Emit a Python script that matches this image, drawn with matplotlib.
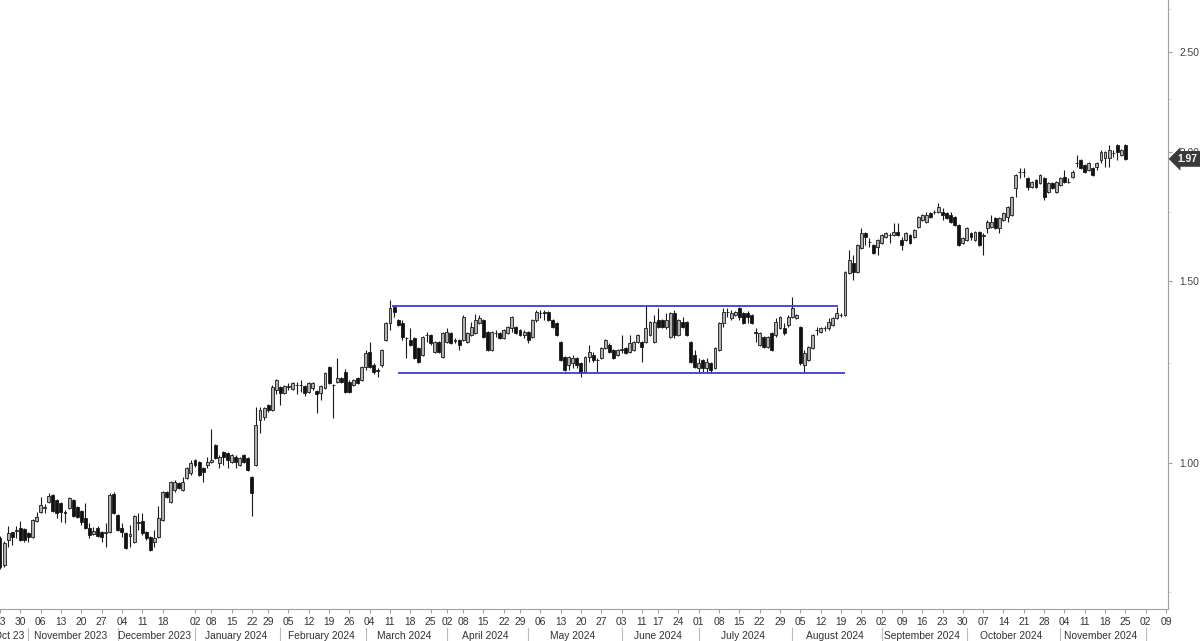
import pandas as pd
import numpy as np
import matplotlib
matplotlib.use('Agg')
import matplotlib.pyplot as plt
import matplotlib.transforms as mtransforms
from matplotlib.ticker import FixedLocator, NullFormatter

plt.rcParams['font.family'] = ['Liberation Sans', 'DejaVu Sans']

# ASX trading calendar, Oct 2023 -> Dec 2024
asx_holidays = ['2023-12-25', '2023-12-26', '2024-01-01', '2024-01-26',
                '2024-03-29', '2024-04-01', '2024-04-25', '2024-06-10']
dates = pd.bdate_range('2023-10-23', '2024-12-09', freq='C', holidays=asx_holidays)

# daily OHLC
open_ = [0.846, 0.797, 0.842, 0.857, 0.860, 0.865, 0.863, 0.855, 0.848, 0.879,
         0.896, 0.905, 0.917, 0.931, 0.921, 0.915, 0.897, 0.905, 0.921, 0.907,
         0.898, 0.884, 0.865, 0.854, 0.865, 0.857, 0.856, 0.857, 0.933, 0.890,
         0.865, 0.855, 0.850, 0.838, 0.874, 0.879, 0.857, 0.848, 0.838, 0.848,
         0.881, 0.937, 0.917, 0.942, 0.956, 0.942, 0.967, 0.978, 1.007, 1.002,
         0.989, 0.996, 1.002, 1.041, 1.000, 1.025, 1.023, 1.002, 1.013, 0.996,
         1.018, 1.011, 0.969, 0.996, 1.101, 1.108, 1.138, 1.126, 1.177, 1.185,
         1.169, 1.184, 1.180, 1.189, 1.191, 1.188, 1.172, 1.182, 1.175, 1.169,
         1.182, 1.239, 1.191, 1.198, 1.209, 1.225, 1.198, 1.190, 1.209, 1.203,
         1.239, 1.281, 1.244, 1.231, 1.244, 1.316, 1.367, 1.416, 1.376, 1.367,
         1.320, 1.316, 1.322, 1.292, 1.272, 1.329, 1.330, 1.281, 1.310, 1.267,
         1.310, 1.336, 1.314, 1.316, 1.316, 1.310, 1.330, 1.336, 1.367, 1.376,
         1.339, 1.287, 1.335, 1.336, 1.322, 1.336, 1.351, 1.354, 1.345, 1.330,
         1.339, 1.325, 1.376, 1.396, 1.400, 1.400, 1.376, 1.367, 1.310, 1.267,
         1.244, 1.250, 1.264, 1.250, 1.225, 1.267, 1.272, 1.257, 1.264, 1.292,
         1.301, 1.287, 1.272, 1.286, 1.292, 1.281, 1.287, 1.310, 1.310, 1.310,
         1.330, 1.310, 1.376, 1.376, 1.354, 1.325, 1.397, 1.330, 1.370, 1.370,
         1.310, 1.272, 1.236, 1.258, 1.236, 1.250, 1.236, 1.287, 1.367, 1.399,
         1.382, 1.391, 1.413, 1.397, 1.397, 1.391, 1.339, 1.301, 1.325, 1.295,
         1.336, 1.330, 1.351, 1.351, 1.360, 1.385, 1.382, 1.354, 1.244, 1.258,
         1.292, 1.344, 1.339, 1.350, 1.351, 1.360, 1.382, 1.392, 1.391, 1.527,
         1.562, 1.531, 1.615, 1.670, 1.636, 1.626, 1.619, 1.633, 1.655, 1.662,
         1.663, 1.674, 1.644, 1.644, 1.663, 1.655, 1.693, 1.719, 1.711, 1.746,
         1.749, 1.750, 1.750, 1.746, 1.738, 1.731, 1.700, 1.633, 1.644, 1.670,
         1.644, 1.674, 1.658, 1.689, 1.693, 1.727, 1.689, 1.719, 1.731, 1.738,
         1.846, 1.912, 1.914, 1.888, 1.850, 1.879, 1.867, 1.888, 1.830, 1.867,
         1.830, 1.859, 1.892, 1.870, 1.892, 1.951, 1.965, 1.943, 1.922, 1.931,
         1.935, 1.965, 1.974, 1.974, 1.995, 2.032, 1.987, 2.032]

high = [0.850, 0.840, 0.869, 0.858, 0.869, 0.879, 0.866, 0.857, 0.883, 0.896,
        0.927, 0.913, 0.935, 0.933, 0.923, 0.917, 0.900, 0.927, 0.923, 0.909,
        0.900, 0.915, 0.875, 0.867, 0.869, 0.859, 0.875, 0.935, 0.937, 0.892,
        0.875, 0.857, 0.871, 0.890, 0.894, 0.894, 0.859, 0.850, 0.861, 0.909,
        0.940, 0.940, 0.961, 0.963, 0.959, 0.969, 0.992, 1.007, 1.009, 1.004,
        0.991, 1.013, 1.079, 1.043, 1.018, 1.027, 1.025, 1.020, 1.018, 1.013,
        1.020, 1.013, 0.971, 1.133, 1.133, 1.133, 1.140, 1.190, 1.206, 1.188,
        1.190, 1.196, 1.198, 1.198, 1.203, 1.190, 1.198, 1.197, 1.177, 1.190,
        1.225, 1.241, 1.193, 1.264, 1.212, 1.233, 1.203, 1.206, 1.212, 1.241,
        1.287, 1.310, 1.250, 1.236, 1.290, 1.370, 1.438, 1.418, 1.379, 1.376,
        1.325, 1.351, 1.325, 1.295, 1.327, 1.339, 1.333, 1.313, 1.313, 1.339,
        1.351, 1.339, 1.322, 1.319, 1.391, 1.339, 1.370, 1.394, 1.391, 1.379,
        1.342, 1.342, 1.345, 1.339, 1.348, 1.357, 1.388, 1.357, 1.348, 1.345,
        1.342, 1.379, 1.407, 1.407, 1.407, 1.403, 1.379, 1.370, 1.313, 1.270,
        1.270, 1.272, 1.267, 1.253, 1.270, 1.301, 1.281, 1.264, 1.295, 1.319,
        1.307, 1.290, 1.290, 1.330, 1.295, 1.330, 1.313, 1.333, 1.313, 1.422,
        1.373, 1.391, 1.413, 1.379, 1.397, 1.400, 1.407, 1.379, 1.385, 1.373,
        1.313, 1.287, 1.264, 1.261, 1.264, 1.253, 1.295, 1.370, 1.413, 1.413,
        1.407, 1.404, 1.416, 1.400, 1.403, 1.394, 1.351, 1.339, 1.328, 1.328,
        1.339, 1.382, 1.388, 1.367, 1.391, 1.448, 1.394, 1.357, 1.287, 1.298,
        1.333, 1.354, 1.354, 1.357, 1.382, 1.385, 1.416, 1.397, 1.535, 1.608,
        1.590, 1.630, 1.689, 1.674, 1.652, 1.630, 1.648, 1.666, 1.674, 1.670,
        1.708, 1.708, 1.655, 1.674, 1.666, 1.685, 1.734, 1.742, 1.750, 1.750,
        1.758, 1.785, 1.766, 1.750, 1.750, 1.734, 1.704, 1.655, 1.693, 1.674,
        1.678, 1.678, 1.670, 1.719, 1.738, 1.731, 1.731, 1.750, 1.774, 1.814,
        1.904, 1.931, 1.931, 1.892, 1.875, 1.883, 1.904, 1.892, 1.871, 1.871,
        1.875, 1.892, 1.922, 1.888, 1.922, 1.987, 1.969, 1.947, 1.956, 1.935,
        1.956, 2.010, 2.005, 2.032, 2.010, 2.036, 2.014, 2.036]

low = [0.790, 0.793, 0.829, 0.833, 0.846, 0.840, 0.838, 0.838, 0.846, 0.877,
       0.894, 0.894, 0.915, 0.896, 0.884, 0.877, 0.875, 0.903, 0.886, 0.884,
       0.871, 0.863, 0.846, 0.852, 0.848, 0.838, 0.829, 0.855, 0.892, 0.859,
       0.848, 0.825, 0.829, 0.836, 0.861, 0.852, 0.842, 0.822, 0.829, 0.846,
       0.879, 0.925, 0.915, 0.937, 0.944, 0.940, 0.965, 0.974, 0.991, 0.972,
       0.959, 0.989, 1.000, 1.009, 0.989, 0.996, 0.989, 1.000, 0.989, 0.994,
       1.000, 0.982, 0.888, 0.994, 1.069, 1.101, 1.120, 1.123, 1.165, 1.138,
       1.167, 1.177, 1.177, 1.165, 1.172, 1.160, 1.169, 1.177, 1.118, 1.151,
       1.180, 1.193, 1.106, 1.196, 1.196, 1.169, 1.170, 1.188, 1.193, 1.200,
       1.231, 1.236, 1.220, 1.212, 1.239, 1.313, 1.345, 1.385, 1.357, 1.316,
       1.264, 1.298, 1.261, 1.250, 1.269, 1.310, 1.301, 1.278, 1.278, 1.264,
       1.307, 1.304, 1.307, 1.287, 1.313, 1.307, 1.327, 1.333, 1.364, 1.322,
       1.284, 1.284, 1.325, 1.319, 1.319, 1.333, 1.339, 1.333, 1.327, 1.322,
       1.307, 1.322, 1.370, 1.382, 1.376, 1.373, 1.351, 1.327, 1.256, 1.228,
       1.231, 1.236, 1.236, 1.212, 1.222, 1.253, 1.253, 1.225, 1.261, 1.290,
       1.278, 1.261, 1.270, 1.278, 1.275, 1.278, 1.284, 1.307, 1.253, 1.307,
       1.327, 1.307, 1.351, 1.351, 1.348, 1.322, 1.322, 1.327, 1.351, 1.327,
       1.250, 1.236, 1.225, 1.225, 1.225, 1.223, 1.233, 1.284, 1.354, 1.385,
       1.376, 1.388, 1.376, 1.364, 1.367, 1.364, 1.310, 1.298, 1.292, 1.292,
       1.284, 1.325, 1.348, 1.330, 1.354, 1.382, 1.379, 1.244, 1.225, 1.256,
       1.290, 1.330, 1.336, 1.342, 1.345, 1.357, 1.379, 1.385, 1.388, 1.524,
       1.504, 1.527, 1.612, 1.626, 1.619, 1.594, 1.590, 1.630, 1.652, 1.633,
       1.659, 1.659, 1.608, 1.641, 1.630, 1.652, 1.689, 1.716, 1.708, 1.727,
       1.742, 1.746, 1.719, 1.723, 1.708, 1.697, 1.622, 1.630, 1.641, 1.644,
       1.641, 1.622, 1.590, 1.670, 1.689, 1.685, 1.670, 1.716, 1.711, 1.734,
       1.810, 1.888, 1.892, 1.838, 1.846, 1.846, 1.863, 1.797, 1.826, 1.842,
       1.826, 1.855, 1.867, 1.867, 1.888, 1.935, 1.927, 1.909, 1.918, 1.896,
       1.922, 1.952, 1.935, 1.935, 1.978, 1.965, 1.983, 1.965]

close = [0.793, 0.837, 0.855, 0.848, 0.862, 0.842, 0.842, 0.848, 0.881, 0.886,
         0.911, 0.907, 0.929, 0.898, 0.894, 0.896, 0.895, 0.925, 0.888, 0.886,
         0.877, 0.865, 0.852, 0.859, 0.850, 0.848, 0.858, 0.931, 0.894, 0.861,
         0.857, 0.827, 0.853, 0.888, 0.876, 0.855, 0.846, 0.824, 0.846, 0.884,
         0.937, 0.927, 0.959, 0.959, 0.946, 0.959, 0.989, 1.000, 0.996, 0.974,
         0.980, 1.002, 1.007, 1.011, 1.013, 1.013, 1.007, 1.018, 1.002, 1.011,
         1.002, 0.985, 0.935, 1.088, 1.126, 1.130, 1.126, 1.185, 1.203, 1.169,
         1.188, 1.186, 1.196, 1.191, 1.189, 1.169, 1.196, 1.196, 1.167, 1.188,
         1.223, 1.196, 1.190, 1.209, 1.198, 1.172, 1.172, 1.203, 1.196, 1.239,
         1.278, 1.239, 1.225, 1.228, 1.287, 1.367, 1.413, 1.400, 1.360, 1.325,
         1.322, 1.301, 1.264, 1.253, 1.325, 1.331, 1.307, 1.310, 1.281, 1.336,
         1.339, 1.307, 1.316, 1.301, 1.385, 1.336, 1.354, 1.376, 1.382, 1.325,
         1.287, 1.339, 1.337, 1.322, 1.345, 1.354, 1.385, 1.336, 1.330, 1.339,
         1.316, 1.376, 1.400, 1.398, 1.397, 1.376, 1.354, 1.330, 1.258, 1.231,
         1.267, 1.264, 1.244, 1.223, 1.267, 1.281, 1.258, 1.259, 1.292, 1.316,
         1.281, 1.264, 1.287, 1.288, 1.278, 1.307, 1.310, 1.330, 1.295, 1.351,
         1.370, 1.370, 1.354, 1.354, 1.376, 1.397, 1.330, 1.376, 1.354, 1.330,
         1.253, 1.239, 1.250, 1.236, 1.253, 1.231, 1.292, 1.367, 1.400, 1.401,
         1.397, 1.400, 1.385, 1.367, 1.385, 1.367, 1.336, 1.336, 1.295, 1.325,
         1.287, 1.370, 1.385, 1.336, 1.385, 1.413, 1.391, 1.250, 1.278, 1.295,
         1.330, 1.346, 1.351, 1.352, 1.370, 1.382, 1.397, 1.390, 1.531, 1.572,
         1.531, 1.626, 1.670, 1.655, 1.638, 1.597, 1.644, 1.663, 1.670, 1.664,
         1.674, 1.663, 1.626, 1.670, 1.633, 1.681, 1.731, 1.738, 1.738, 1.731,
         1.751, 1.770, 1.738, 1.727, 1.711, 1.700, 1.626, 1.652, 1.689, 1.655,
         1.674, 1.626, 1.661, 1.711, 1.711, 1.689, 1.727, 1.746, 1.770, 1.810,
         1.900, 1.914, 1.912, 1.850, 1.871, 1.850, 1.900, 1.810, 1.867, 1.846,
         1.871, 1.888, 1.871, 1.872, 1.913, 1.953, 1.931, 1.913, 1.952, 1.900,
         1.952, 2.001, 2.001, 2.010, 1.997, 2.001, 2.010, 1.970]

# trading range (support / resistance) drawn on the chart
resistance = 1.419
support = 1.221
resistance_span = (96.5, 206.2)
support_span = (98, 208)

last_price = 1.97
y_ticks = [1.00, 1.50, 2.00, 2.50]
y_minor = [0.75, 1.25, 1.75, 2.25, 2.75]

df = pd.DataFrame({'open': open_, 'high': high, 'low': low, 'close': close})
df['date'] = dates[:len(df)]
idx = np.arange(len(df))
up = df['close'] >= df['open']
hi = df[['high', 'open', 'close']].max(axis=1)
lo = df[['low', 'open', 'close']].min(axis=1)

fig = plt.figure(figsize=(12, 6.41), dpi=100)
ax = fig.add_axes([0, 32 / 641, 1168 / 1200, 609 / 641])
ax.set_yscale('log')

# wicks then bodies
ax.vlines(idx, lo, hi, color='#1a1a1a', lw=0.8, zorder=2)
body_lo = df[['open', 'close']].min(axis=1)
body_h = (df['close'] - df['open']).abs()
ax.bar(idx, body_h, bottom=body_lo, width=0.72,
       color=np.where(up, '#b0b0b0', '#111111'),
       edgecolor='#1a1a1a', linewidth=0.6, zorder=3)

ax.hlines(resistance, *resistance_span, color='#3c3cd6', lw=1.3, zorder=4)
ax.hlines(support, *support_span, color='#3c3cd6', lw=1.3, zorder=4)

ax.set_xlim(0, 287.5)
ax.set_ylim(0.7221, 2.8076)

for s in ['top', 'left']:
    ax.spines[s].set_visible(False)
for s in ['right', 'bottom']:
    ax.spines[s].set_color('#a0a0a0')
    ax.spines[s].set_linewidth(0.8)

# right price axis
ax.yaxis.tick_right()
ax.yaxis.set_major_locator(FixedLocator(y_ticks))
ax.yaxis.set_major_formatter(plt.FuncFormatter(lambda v, p: f'{v:.2f}'))
ax.yaxis.set_minor_locator(FixedLocator(y_minor))
ax.yaxis.set_minor_formatter(NullFormatter())
ax.tick_params(axis='y', which='major', length=3, color='#a0a0a0',
               labelsize=7.4, labelcolor='#444444', pad=5)
ax.tick_params(axis='y', which='minor', length=2, color='#d0d0d0')

# weekly day ticks (first trading day of each week, Mon/Tue only)
all_idx = np.arange(len(dates))
wk = dates.isocalendar().week.values
first_of_week = np.r_[True, wk[1:] != wk[:-1]]
tick_pos = [i for i in all_idx if first_of_week[i] and dates[i].weekday() <= 1]
ax.set_xticks(tick_pos)
ax.set_xticklabels([dates[i].strftime('%d') for i in tick_pos])
ax.tick_params(axis='x', length=3, color='#a0a0a0', labelsize=7.4,
               labelcolor='#333333', pad=3)

# month labels and separators below the day row
blend = mtransforms.blended_transform_factory(ax.transData, ax.transAxes)
months = pd.Series(all_idx, index=dates).groupby(dates.to_period('M'))
for per, grp in months:
    first, last = grp.iloc[0], grp.iloc[-1]
    if first > 0:
        ax.plot([first, first], [-0.031, -0.053], transform=blend,
                color='#bbbbbb', lw=0.8, clip_on=False)
    if str(per) == '2023-10':
        ax.text(2.3, -0.0443, 'Oct 23', transform=blend, ha='center',
                va='center', fontsize=7.4, color='#333333', clip_on=False)
    elif str(per) != '2024-12':
        ax.text((first + last) / 2, -0.0443, per.strftime('%B %Y'),
                transform=blend, ha='center', va='center', fontsize=7.4,
                color='#333333', clip_on=False)

# last price tag
tag = mtransforms.blended_transform_factory(ax.transAxes, ax.transData)
ax.text(1.008, last_price, f'{last_price:.2f}', transform=tag, ha='left',
        va='center', fontsize=7.4, color='white', fontweight='bold',
        zorder=10, clip_on=False,
        bbox=dict(boxstyle='larrow,pad=0.28', fc='#3a3a3a', ec='none'))

fig.savefig('out.png', dpi=100)
